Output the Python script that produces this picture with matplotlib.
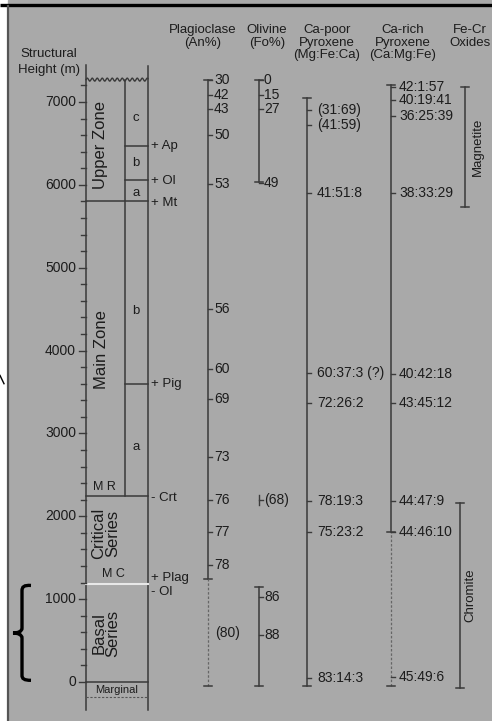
import numpy as np
import matplotlib.pyplot as plt
from matplotlib.path import Path
from matplotlib.patches import PathPatch, Rectangle

plt.rcParams['font.family'] = ['Liberation Sans', 'DejaVu Sans']

# structural height (m) scale
height_ticks = list(range(0, 7201, 200))
height_labels = [0, 1000, 2000, 3000, 4000, 5000, 6000, 7000]

# stratigraphic boundaries (m)
col_top = 7270
upper_base = 5800
upper_ab = 6060
upper_bc = 6470
main_ab = 3600
critical_top = 2245
basal_top = 1180
marginal_base = -180
col_bottom = -340

# appearance (+) / disappearance (-) of cumulus phases
phase_labels = ["+ Ap", "+ Ol", "+ Mt", "+ Pig", "- Crt", "+ Plag", "- Ol"]
phase_heights = [6470, 6050, 5780, 3600, 2215, 1250, 1080]

# plagioclase An%
plag_values = ["30", "42", "43", "50", "53", "56", "60", "69", "73", "76", "77", "78"]
plag_heights = [7265, 7090, 6920, 6601, 6010, 4502, 3777, 3415, 2715, 2196, 1810, 1412]
plag_solid = (1243, 7265)
plag_dashed = (-50, 1243)

# olivine Fo%
ol_upper_values = ["0", "15", "27", "49"]
ol_upper_heights = [7265, 7085, 6910, 6020]
ol_upper_range = (6030, 7265)
ol_crit_value = "(68)"
ol_crit_height = 2196
ol_lower_values = ["86", "88"]
ol_lower_heights = [1026, 567]
ol_lower_range = (-50, 1146)

# Ca-poor pyroxene Mg:Fe:Ca
cpx_poor_values = ["(31:69)", "(41:59)", "41:51:8", "60:37:3 (?)", "72:26:2",
                   "78:19:3", "75:23:2", "83:14:3"]
cpx_poor_heights = [6903, 6722, 5900, 3729, 3367, 2184, 1810, 48]
cpx_poor_range = (-50, 7048)

# Ca-rich pyroxene Ca:Mg:Fe
cpx_rich_values = ["42:1:57", "40:19:41", "36:25:39", "38:33:29", "40:42:18",
                   "43:45:12", "44:47:9", "44:46:10", "45:49:6"]
cpx_rich_heights = [7181, 7024, 6831, 5900, 3717, 3367, 2184, 1810, 60]
cpx_rich_solid = (1810, 7205)
cpx_rich_dashed = (-50, 1810)

# Fe-Cr oxides
magnetite_range = (5733, 7181)
chromite_range = (-72, 2160)

ink = '#1c1c1c'
line_c = '#3a3a3a'
bg = '#a9a9a9'

fig = plt.figure(figsize=(4.92, 7.21), dpi=100)
fig.patch.set_facecolor('white')
ax = fig.add_axes([0, 0, 1, 1])
ax.set_xlim(0, 492)
ax.set_ylim(-471, 8231)
ax.axis('off')

# panel background and frame
ax.add_patch(Rectangle((8, -471), 484, 8700, color=bg, zorder=0))
ax.plot([0, 492], [8176, 8176], color='black', lw=2.4, solid_capstyle='butt')
ax.plot([8, 8], [-471, 8160], color='#555555', lw=1.6)
ax.plot([0, 4], [3700, 3600], color='black', lw=1)

# column outline
xl, xm, xr = 86, 125, 148
ax.plot([xl, xl], [col_bottom, 7450], color=line_c, lw=1.1)
ax.plot([xr, xr], [col_bottom, 7430], color=line_c, lw=1.1)
ax.plot([xm, xm], [critical_top, col_top], color=line_c, lw=1.1)
wx = np.linspace(xl, xr, 200)
ax.plot(wx, col_top + 18 * np.sin((wx - xl) / 5.0 * 2 * np.pi), color=line_c, lw=1)
for h in [upper_base, critical_top, 0]:
    ax.plot([xl, xr], [h, h], color=line_c, lw=1.1)
for h in [upper_ab, upper_bc, main_ab]:
    ax.plot([xm, xr], [h, h], color=line_c, lw=1.1)
ax.plot([xl, xr], [basal_top, basal_top], color='#e8e8e8', lw=1.5)
ax.plot([xl, xr], [marginal_base, marginal_base], color='#555555', lw=0.8, ls=(0, (2, 1.5)))

# height axis
for h in height_ticks:
    ax.plot([xl - (7 if h % 1000 == 0 else 5), xl], [h, h], color=line_c, lw=1)
for h in height_labels:
    ax.text(76, h, str(h), ha='right', va='center', fontsize=10, color=ink)
ax.text(20, 7579, "Structural", ha='left', va='center', fontsize=9.5, color=ink)
ax.text(18, 7386, "Height (m)", ha='left', va='center', fontsize=9.5, color=ink)

# zone labels
ax.text(101, 6481, "Upper Zone", rotation=90, ha='center', va='center', fontsize=12, color=ink)
ax.text(101, 4007, "Main Zone", rotation=90, ha='center', va='center', fontsize=12, color=ink)
ax.text(106, 1798, "Critical\nSeries", rotation=90, ha='center', va='center', fontsize=12,
        color=ink, linespacing=0.95)
ax.text(106, 591, "Basal\nSeries", rotation=90, ha='center', va='center', fontsize=12,
        color=ink, linespacing=0.95)
ax.text(104, 2353, "M R", ha='center', va='center', fontsize=9, color=ink)
ax.text(113, 1303, "M C", ha='center', va='center', fontsize=9, color=ink)
ax.text(117, -97, "Marginal", ha='center', va='center', fontsize=8, color=ink)
for s, h in [("c", 6807), ("b", 6264), ("a", 5902), ("b", 4477), ("a", 2836)]:
    ax.text(136, h, s, ha='center', va='center', fontsize=9.5, color=ink)

for s, h in zip(phase_labels, phase_heights):
    ax.text(151, h, s, ha='left', va='center', fontsize=9.5, color=ink)

# headers
hdr = [(203, "Plagioclase\n(An%)"), (267, "Olivine\n(Fo%)"),
       (327, "Ca-poor\nPyroxene\n(Mg:Fe:Ca)"), (403, "Ca-rich\nPyroxene\n(Ca:Mg:Fe)"),
       (470, "Fe-Cr\nOxides")]
for x, s in hdr:
    ax.text(x, 7940, s, ha='center', va='top', fontsize=9.5, color=ink, linespacing=1.05)


def bar(x, lo, hi, ls='-', caps=True):
    ax.plot([x, x], [lo, hi], color=line_c, lw=1.1, ls=ls)
    if caps:
        ax.plot([x - 4, x + 4], [lo, lo], color=line_c, lw=1.1)
        ax.plot([x - 4, x + 4], [hi, hi], color=line_c, lw=1.1)


def marks(x, values, heights, dx=8):
    for s, h in zip(values, heights):
        ax.plot([x, x + 4], [h, h], color=line_c, lw=1)
        ax.text(x + dx, h, s, ha='left', va='center', fontsize=10, color=ink)


# plagioclase
xp = 208
bar(xp, *plag_solid)
ax.plot([xp, xp], plag_dashed, color='#666666', lw=0.9, ls=(0, (2, 1.5)))
ax.plot([xp - 4, xp + 4], [plag_dashed[0]] * 2, color=line_c, lw=1.1)
marks(xp, plag_values, plag_heights, dx=6)
ax.text(228, 591, "(80)", ha='center', va='center', fontsize=10, color=ink)

# olivine
xo = 259
bar(xo, *ol_upper_range)
marks(xo, ol_upper_values, ol_upper_heights, dx=5)
ax.plot([xo, xo], [ol_crit_height - 60, ol_crit_height + 60], color=line_c, lw=1)
marks(xo, [ol_crit_value], [ol_crit_height], dx=5)
bar(xo, *ol_lower_range)
marks(xo, ol_lower_values, ol_lower_heights, dx=5)

# Ca-poor pyroxene
xcp = 307
bar(xcp, *cpx_poor_range)
marks(xcp, cpx_poor_values, cpx_poor_heights, dx=10)

# Ca-rich pyroxene
xcr = 391
bar(xcr, *cpx_rich_solid)
ax.plot([xcr, xcr], cpx_rich_dashed, color='#666666', lw=0.9, ls=(0, (2, 1.5)))
ax.plot([xcr - 4, xcr + 4], [cpx_rich_dashed[0]] * 2, color=line_c, lw=1.1)
marks(xcr, cpx_rich_values, cpx_rich_heights, dx=8)

# Fe-Cr oxides
bar(465, *magnetite_range)
ax.text(478, sum(magnetite_range) / 2, "Magnetite", rotation=90, ha='center', va='center',
        fontsize=9.5, color=ink)
bar(460, *chromite_range)
ax.text(470, sum(chromite_range) / 2, "Chromite", rotation=90, ha='center', va='center',
        fontsize=9.5, color=ink)

# brace beside the basal series
verts = [(31, 1165), (24, 1170), (22, 1150), (22, 1100), (22, 650),
         (22, 610), (18, 591), (13, 591),
         (18, 591), (22, 570), (22, 530), (22, 80),
         (22, 40), (24, 20), (31, 20)]
codes = [Path.MOVETO, Path.CURVE4, Path.CURVE4, Path.CURVE4, Path.LINETO,
         Path.CURVE4, Path.CURVE4, Path.CURVE4,
         Path.CURVE4, Path.CURVE4, Path.CURVE4, Path.LINETO,
         Path.CURVE4, Path.CURVE4, Path.CURVE4]
ax.add_patch(PathPatch(Path(verts, codes), fill=False, lw=2.4, color='black'))

fig.savefig('out.png', dpi=100)
